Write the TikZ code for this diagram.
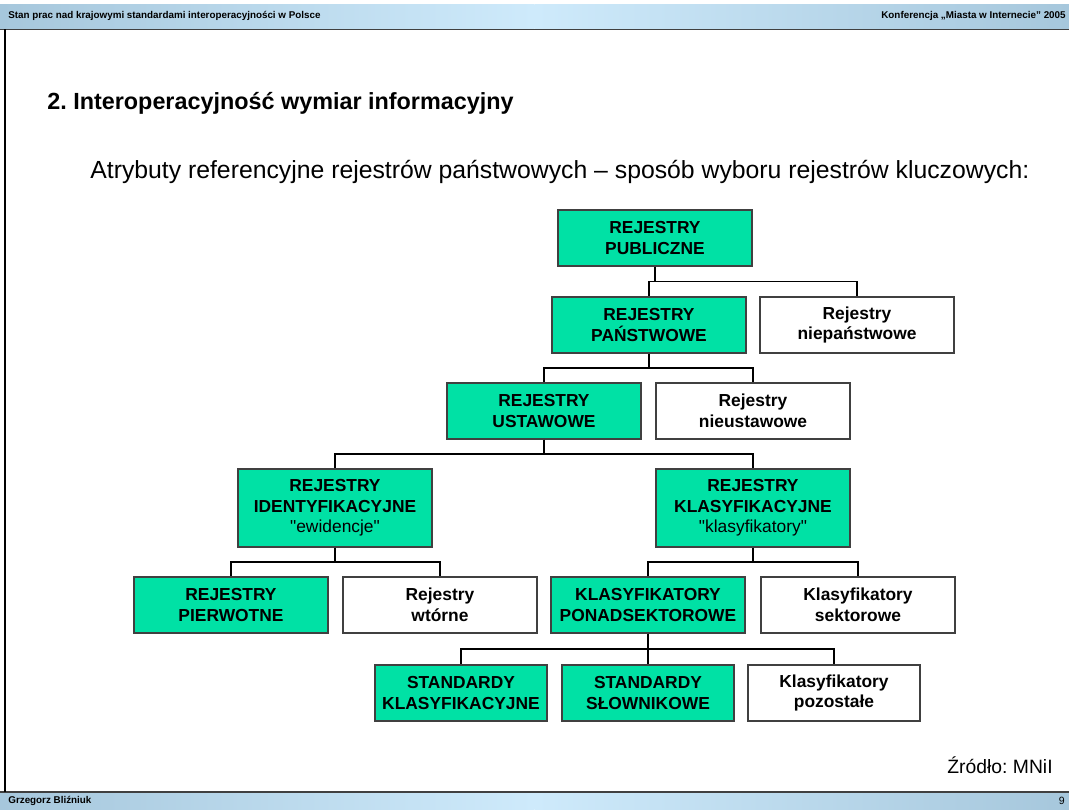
\documentclass[tikz,border=0pt]{standalone}
\usepackage{fontspec}
\setmainfont{Liberation Sans}[Ligatures=TeXOff]
\frenchspacing
\usetikzlibrary{calc}
\definecolor{regfill}{RGB}{0,225,165}
\definecolor{barside}{RGB}{166,199,220}
\definecolor{barmid}{RGB}{206,234,251}
\begin{document}
\begin{tikzpicture}[x=0.02cm,y=-0.02cm,
		box/.style={draw=black!75,line width=0.8pt,align=center,inner sep=0pt,
			font={\fontsize{9.9}{11.7}\selectfont\bfseries},minimum width=3.88cm,minimum height=1.12cm},
		key/.style={box,fill=regfill},
		other/.style={box,fill=white},
		tall/.style={minimum height=1.56cm},
		std/.style={minimum width=3.44cm},
		conn/.style={draw=black,line width=0.6pt},
		small/.style={inner sep=0pt,font={\fontsize{5.6}{6.5}\selectfont\bfseries}}]
     		\useasboundingbox (0,0) rectangle (1069,810);
     		% header and footer bars
     		\shade[left color=barside,right color=barmid] (0,5) rectangle (534.5,29);
     		\shade[left color=barmid,right color=barside] (534.5,5) rectangle (1069,29);
     		\shade[left color=barside,right color=barmid] (0,792) rectangle (534.5,810);
     		\shade[left color=barmid,right color=barside] (534.5,792) rectangle (1069,810);
     		\draw[line width=0.9pt,black!75] (0,29.5)--(1069,29.5);
     		\draw[line width=0.9pt,black!75] (0,792)--(1069,792);
     		\draw[line width=0.9pt] (5,29.5)--(5,792);
     		\node[small,anchor=west] (head) at (8,16) {Stan prac nad krajowymi standardami interoperacyjności w Polsce};
     		\node[small,anchor=east] (conf) at (1066,16) {Konferencja „Miasta w Internecie” 2005};
     		\node[small,anchor=west] (author) at (8,801) {Grzegorz Bliźniuk};
     		\node[inner sep=0pt,anchor=east,font={\fontsize{6}{7}\selectfont}] (page) at (1065,801) {9};
     		\node[inner sep=0pt,anchor=west,font={\fontsize{13.3}{15}\selectfont\bfseries}] (title) at (47,103) {2. Interoperacyjność wymiar informacyjny};
     		\node[inner sep=0pt,anchor=west,font={\fontsize{14.1}{16}\selectfont}] (lead) at (90,172) {Atrybuty referencyjne rejestrów państwowych – sposób wyboru rejestrów kluczowych:};
     		\node[inner sep=0pt,anchor=east,font={\fontsize{11}{13}\selectfont}] (src) at (1053,765) {Źródło: MNiI};
     		% tree
     		\node[key] (pub) at (655,238) {REJESTRY\\PUBLICZNE};
     		\node[key] (pan) at (649,325) {REJESTRY\\PAŃSTWOWE};
     		\node[other] (npan) at (857,325) {Rejestry\\niepaństwowe};
     		\node[key] (ust) at (544,411) {REJESTRY\\USTAWOWE};
     		\node[other] (nust) at (753,411) {Rejestry\\nieustawowe};
     		\node[key,tall] (ident) at (335,508) {REJESTRY\\IDENTYFIKACYJNE\\{\mdseries "ewidencje"}};
     		\node[key,tall] (klas) at (753,508) {REJESTRY\\KLASYFIKACYJNE\\{\mdseries "klasyfikatory"}};
     		\node[key] (pierw) at (231,605) {REJESTRY\\PIERWOTNE};
     		\node[other] (wtor) at (440,605) {Rejestry\\wtórne};
     		\node[key] (ponad) at (648,605) {KLASYFIKATORY\\PONADSEKTOROWE};
     		\node[other] (sekt) at (858,605) {Klasyfikatory\\sektorowe};
     		\node[key,std] (stkl) at (461,693) {STANDARDY\\KLASYFIKACYJNE};
     		\node[key,std] (stsl) at (648,693) {STANDARDY\\SŁOWNIKOWE};
     		\node[other,std] (poz) at (834,693) {Klasyfikatory\\pozostałe};
     		\foreach \p/\c in {pub/pan,pub/npan,pan/ust,pan/nust,ust/ident,ust/klas,ident/pierw,ident/wtor,
     			klas/ponad,klas/sekt,ponad/stkl,ponad/stsl,ponad/poz}{
     		\draw[conn] (\p.south) |- ($(\p.south)!.5!(\c.north)$) -| (\c.north);}
\end{tikzpicture}
\end{document}
